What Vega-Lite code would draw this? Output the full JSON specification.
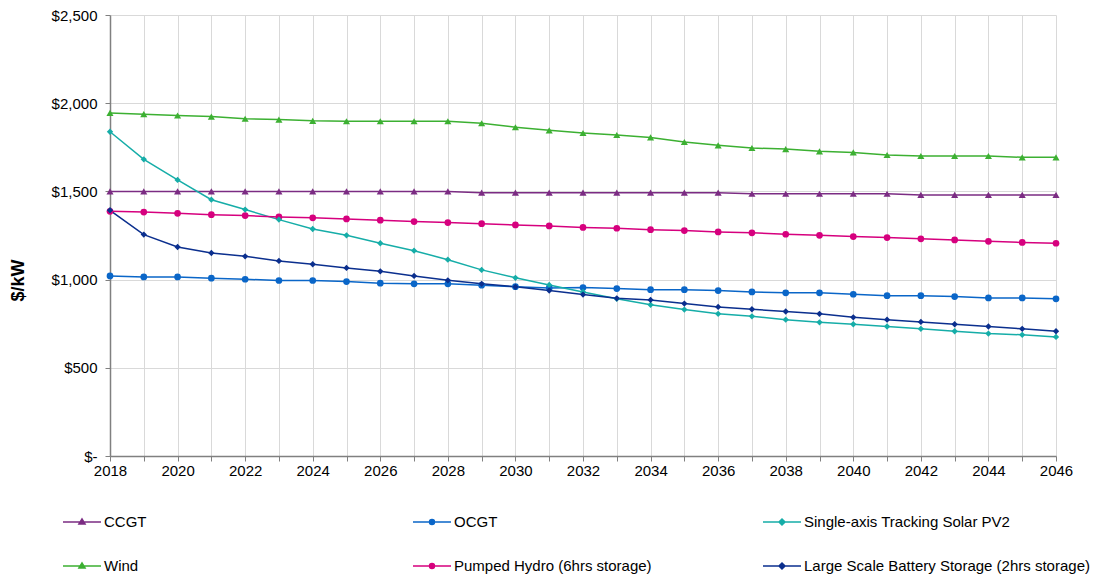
{
  "$schema": "https://vega.github.io/schema/vega-lite/v6.json",
  "width": 946,
  "height": 441,
  "autosize": {"type": "none"},
  "padding": {"left": 110, "top": 15, "right": 50, "bottom": 118},
  "background": "#ffffff",
  "config": {
    "view": {"stroke": null},
    "font": "Liberation Sans",
    "axis": {"labelFont": "Liberation Sans", "labelFontSize": 15, "labelColor": "#000000", "gridColor": "#D9D9D9", "gridWidth": 1, "domainColor": "#808080", "domainWidth": 1.5, "tickColor": "#808080", "tickSize": 5},
    "legend": {"labelFont": "Liberation Sans", "labelFontSize": 15, "labelColor": "#000000"}
  },
  "data": {"values": [
    {"year":2018,"s":"CCGT","v":1500},{"year":2019,"s":"CCGT","v":1500},{"year":2020,"s":"CCGT","v":1500},{"year":2021,"s":"CCGT","v":1500},{"year":2022,"s":"CCGT","v":1500},{"year":2023,"s":"CCGT","v":1500},{"year":2024,"s":"CCGT","v":1500},{"year":2025,"s":"CCGT","v":1500},{"year":2026,"s":"CCGT","v":1500},{"year":2027,"s":"CCGT","v":1500},{"year":2028,"s":"CCGT","v":1500},{"year":2029,"s":"CCGT","v":1493},{"year":2030,"s":"CCGT","v":1493},{"year":2031,"s":"CCGT","v":1493},{"year":2032,"s":"CCGT","v":1493},{"year":2033,"s":"CCGT","v":1493},{"year":2034,"s":"CCGT","v":1493},{"year":2035,"s":"CCGT","v":1493},{"year":2036,"s":"CCGT","v":1493},{"year":2037,"s":"CCGT","v":1487},{"year":2038,"s":"CCGT","v":1487},{"year":2039,"s":"CCGT","v":1487},{"year":2040,"s":"CCGT","v":1487},{"year":2041,"s":"CCGT","v":1487},{"year":2042,"s":"CCGT","v":1480},{"year":2043,"s":"CCGT","v":1480},{"year":2044,"s":"CCGT","v":1480},{"year":2045,"s":"CCGT","v":1480},{"year":2046,"s":"CCGT","v":1480},
    {"year":2018,"s":"OCGT","v":1021},{"year":2019,"s":"OCGT","v":1015},{"year":2020,"s":"OCGT","v":1015},{"year":2021,"s":"OCGT","v":1008},{"year":2022,"s":"OCGT","v":1002},{"year":2023,"s":"OCGT","v":995},{"year":2024,"s":"OCGT","v":995},{"year":2025,"s":"OCGT","v":989},{"year":2026,"s":"OCGT","v":980},{"year":2027,"s":"OCGT","v":976},{"year":2028,"s":"OCGT","v":976},{"year":2029,"s":"OCGT","v":968},{"year":2030,"s":"OCGT","v":960},{"year":2031,"s":"OCGT","v":953},{"year":2032,"s":"OCGT","v":955},{"year":2033,"s":"OCGT","v":949},{"year":2034,"s":"OCGT","v":943},{"year":2035,"s":"OCGT","v":943},{"year":2036,"s":"OCGT","v":938},{"year":2037,"s":"OCGT","v":930},{"year":2038,"s":"OCGT","v":925},{"year":2039,"s":"OCGT","v":925},{"year":2040,"s":"OCGT","v":917},{"year":2041,"s":"OCGT","v":909},{"year":2042,"s":"OCGT","v":909},{"year":2043,"s":"OCGT","v":904},{"year":2044,"s":"OCGT","v":896},{"year":2045,"s":"OCGT","v":896},{"year":2046,"s":"OCGT","v":891},
    {"year":2018,"s":"Single-axis Tracking Solar PV2","v":1838},{"year":2019,"s":"Single-axis Tracking Solar PV2","v":1682},{"year":2020,"s":"Single-axis Tracking Solar PV2","v":1565},{"year":2021,"s":"Single-axis Tracking Solar PV2","v":1453},{"year":2022,"s":"Single-axis Tracking Solar PV2","v":1397},{"year":2023,"s":"Single-axis Tracking Solar PV2","v":1340},{"year":2024,"s":"Single-axis Tracking Solar PV2","v":1287},{"year":2025,"s":"Single-axis Tracking Solar PV2","v":1251},{"year":2026,"s":"Single-axis Tracking Solar PV2","v":1206},{"year":2027,"s":"Single-axis Tracking Solar PV2","v":1164},{"year":2028,"s":"Single-axis Tracking Solar PV2","v":1113},{"year":2029,"s":"Single-axis Tracking Solar PV2","v":1055},{"year":2030,"s":"Single-axis Tracking Solar PV2","v":1010},{"year":2031,"s":"Single-axis Tracking Solar PV2","v":970},{"year":2032,"s":"Single-axis Tracking Solar PV2","v":930},{"year":2033,"s":"Single-axis Tracking Solar PV2","v":891},{"year":2034,"s":"Single-axis Tracking Solar PV2","v":857},{"year":2035,"s":"Single-axis Tracking Solar PV2","v":830},{"year":2036,"s":"Single-axis Tracking Solar PV2","v":806},{"year":2037,"s":"Single-axis Tracking Solar PV2","v":792},{"year":2038,"s":"Single-axis Tracking Solar PV2","v":773},{"year":2039,"s":"Single-axis Tracking Solar PV2","v":758},{"year":2040,"s":"Single-axis Tracking Solar PV2","v":747},{"year":2041,"s":"Single-axis Tracking Solar PV2","v":734},{"year":2042,"s":"Single-axis Tracking Solar PV2","v":721},{"year":2043,"s":"Single-axis Tracking Solar PV2","v":707},{"year":2044,"s":"Single-axis Tracking Solar PV2","v":694},{"year":2045,"s":"Single-axis Tracking Solar PV2","v":687},{"year":2046,"s":"Single-axis Tracking Solar PV2","v":675},
    {"year":2018,"s":"Wind","v":1945},{"year":2019,"s":"Wind","v":1938},{"year":2020,"s":"Wind","v":1930},{"year":2021,"s":"Wind","v":1924},{"year":2022,"s":"Wind","v":1912},{"year":2023,"s":"Wind","v":1907},{"year":2024,"s":"Wind","v":1900},{"year":2025,"s":"Wind","v":1898},{"year":2026,"s":"Wind","v":1898},{"year":2027,"s":"Wind","v":1898},{"year":2028,"s":"Wind","v":1898},{"year":2029,"s":"Wind","v":1886},{"year":2030,"s":"Wind","v":1864},{"year":2031,"s":"Wind","v":1846},{"year":2032,"s":"Wind","v":1831},{"year":2033,"s":"Wind","v":1820},{"year":2034,"s":"Wind","v":1806},{"year":2035,"s":"Wind","v":1780},{"year":2036,"s":"Wind","v":1761},{"year":2037,"s":"Wind","v":1746},{"year":2038,"s":"Wind","v":1740},{"year":2039,"s":"Wind","v":1727},{"year":2040,"s":"Wind","v":1721},{"year":2041,"s":"Wind","v":1706},{"year":2042,"s":"Wind","v":1701},{"year":2043,"s":"Wind","v":1701},{"year":2044,"s":"Wind","v":1701},{"year":2045,"s":"Wind","v":1693},{"year":2046,"s":"Wind","v":1693},
    {"year":2018,"s":"Pumped Hydro (6hrs storage)","v":1387},{"year":2019,"s":"Pumped Hydro (6hrs storage)","v":1383},{"year":2020,"s":"Pumped Hydro (6hrs storage)","v":1376},{"year":2021,"s":"Pumped Hydro (6hrs storage)","v":1368},{"year":2022,"s":"Pumped Hydro (6hrs storage)","v":1363},{"year":2023,"s":"Pumped Hydro (6hrs storage)","v":1355},{"year":2024,"s":"Pumped Hydro (6hrs storage)","v":1350},{"year":2025,"s":"Pumped Hydro (6hrs storage)","v":1344},{"year":2026,"s":"Pumped Hydro (6hrs storage)","v":1337},{"year":2027,"s":"Pumped Hydro (6hrs storage)","v":1329},{"year":2028,"s":"Pumped Hydro (6hrs storage)","v":1323},{"year":2029,"s":"Pumped Hydro (6hrs storage)","v":1317},{"year":2030,"s":"Pumped Hydro (6hrs storage)","v":1310},{"year":2031,"s":"Pumped Hydro (6hrs storage)","v":1304},{"year":2032,"s":"Pumped Hydro (6hrs storage)","v":1296},{"year":2033,"s":"Pumped Hydro (6hrs storage)","v":1291},{"year":2034,"s":"Pumped Hydro (6hrs storage)","v":1283},{"year":2035,"s":"Pumped Hydro (6hrs storage)","v":1278},{"year":2036,"s":"Pumped Hydro (6hrs storage)","v":1270},{"year":2037,"s":"Pumped Hydro (6hrs storage)","v":1265},{"year":2038,"s":"Pumped Hydro (6hrs storage)","v":1257},{"year":2039,"s":"Pumped Hydro (6hrs storage)","v":1251},{"year":2040,"s":"Pumped Hydro (6hrs storage)","v":1244},{"year":2041,"s":"Pumped Hydro (6hrs storage)","v":1238},{"year":2042,"s":"Pumped Hydro (6hrs storage)","v":1231},{"year":2043,"s":"Pumped Hydro (6hrs storage)","v":1225},{"year":2044,"s":"Pumped Hydro (6hrs storage)","v":1217},{"year":2045,"s":"Pumped Hydro (6hrs storage)","v":1211},{"year":2046,"s":"Pumped Hydro (6hrs storage)","v":1206},
    {"year":2018,"s":"Large Scale Battery Storage (2hrs storage)","v":1393},{"year":2019,"s":"Large Scale Battery Storage (2hrs storage)","v":1255},{"year":2020,"s":"Large Scale Battery Storage (2hrs storage)","v":1185},{"year":2021,"s":"Large Scale Battery Storage (2hrs storage)","v":1151},{"year":2022,"s":"Large Scale Battery Storage (2hrs storage)","v":1132},{"year":2023,"s":"Large Scale Battery Storage (2hrs storage)","v":1106},{"year":2024,"s":"Large Scale Battery Storage (2hrs storage)","v":1087},{"year":2025,"s":"Large Scale Battery Storage (2hrs storage)","v":1066},{"year":2026,"s":"Large Scale Battery Storage (2hrs storage)","v":1047},{"year":2027,"s":"Large Scale Battery Storage (2hrs storage)","v":1021},{"year":2028,"s":"Large Scale Battery Storage (2hrs storage)","v":996},{"year":2029,"s":"Large Scale Battery Storage (2hrs storage)","v":976},{"year":2030,"s":"Large Scale Battery Storage (2hrs storage)","v":959},{"year":2031,"s":"Large Scale Battery Storage (2hrs storage)","v":938},{"year":2032,"s":"Large Scale Battery Storage (2hrs storage)","v":915},{"year":2033,"s":"Large Scale Battery Storage (2hrs storage)","v":894},{"year":2034,"s":"Large Scale Battery Storage (2hrs storage)","v":885},{"year":2035,"s":"Large Scale Battery Storage (2hrs storage)","v":864},{"year":2036,"s":"Large Scale Battery Storage (2hrs storage)","v":845},{"year":2037,"s":"Large Scale Battery Storage (2hrs storage)","v":832},{"year":2038,"s":"Large Scale Battery Storage (2hrs storage)","v":819},{"year":2039,"s":"Large Scale Battery Storage (2hrs storage)","v":806},{"year":2040,"s":"Large Scale Battery Storage (2hrs storage)","v":786},{"year":2041,"s":"Large Scale Battery Storage (2hrs storage)","v":773},{"year":2042,"s":"Large Scale Battery Storage (2hrs storage)","v":760},{"year":2043,"s":"Large Scale Battery Storage (2hrs storage)","v":747},{"year":2044,"s":"Large Scale Battery Storage (2hrs storage)","v":734},{"year":2045,"s":"Large Scale Battery Storage (2hrs storage)","v":721},{"year":2046,"s":"Large Scale Battery Storage (2hrs storage)","v":707}
  ]},
  "encoding": {
    "x": {"field": "year", "type": "quantitative",
      "scale": {"domain": [2018, 2046], "nice": false, "zero": false},
      "axis": {"title": null, "values": [2018,2019,2020,2021,2022,2023,2024,2025,2026,2027,2028,2029,2030,2031,2032,2033,2034,2035,2036,2037,2038,2039,2040,2041,2042,2043,2044,2045,2046],
        "labelExpr": "datum.value % 2 == 0 ? '' + datum.value : ''", "labelPadding": 2, "labelFlush": false, "labelOverlap": false}},
    "y": {"field": "v", "type": "quantitative",
      "scale": {"domain": [0, 2500], "nice": false},
      "axis": {"title": "$/kW", "values": [0,500,1000,1500,2000,2500],
        "labelExpr": "datum.value == 0 ? '$-' : '$' + format(datum.value, ',')", "labelPadding": 8,
        "titleFont": "Liberation Sans", "titleFontSize": 18, "titleFontWeight": "bold", "titleColor": "#000000",
        "titleX": -83, "titleY": 265, "titleAngle": -90, "titleBaseline": "bottom", "titleAlign": "center"}},
    "color": {"field": "s", "type": "nominal",
      "scale": {"domain": ["CCGT","OCGT","Single-axis Tracking Solar PV2","Wind","Pumped Hydro (6hrs storage)","Large Scale Battery Storage (2hrs storage)"],
        "range": ["#7B2C83","#0A66C8","#16ADA8","#3CB032","#D6007E","#0B2F8E"]},
      "legend": {"title": null, "orient": "none", "legendX": -48, "legendY": 487, "columns": 3, "direction": "horizontal", "gridAlign": "all",
        "columnPadding": 20, "rowPadding": 16, "symbolSize": 1444, "symbolStrokeWidth": 1.5, "labelOffset": 2, "labelLimit": 400,
        "encode": {"symbols": {"update": {
          "shape": {"signal": "indexof(['CCGT','Wind'], datum.value) >= 0 ? 'M-1,0H1M-0.16,0.1L0,-0.16L0.16,0.1Z' : (indexof(['OCGT','Pumped Hydro (6hrs storage)'], datum.value) >= 0 ? 'M-1,0H1M0.13,0A0.13,0.13 0 1,1 -0.13,0A0.13,0.13 0 1,1 0.13,0Z' : 'M-1,0H1M-0.16,0L0,-0.16L0.16,0L0,0.16Z')"},
          "fill": {"signal": "scale('color', datum.value)"},
          "stroke": {"signal": "scale('color', datum.value)"}
        }}}}
    }
  },
  "layer": [
    {"mark": {"type": "line", "strokeWidth": 1.5}},
    {"transform": [{"filter": {"field": "s", "oneOf": ["CCGT", "Wind"]}}],
      "mark": {"type": "point", "filled": true, "opacity": 1, "size": 50, "shape": "triangle-up"}},
    {"transform": [{"filter": {"field": "s", "oneOf": ["OCGT", "Pumped Hydro (6hrs storage)"]}}],
      "mark": {"type": "point", "filled": true, "opacity": 1, "size": 45, "shape": "circle"}},
    {"transform": [{"filter": {"field": "s", "oneOf": ["Single-axis Tracking Solar PV2", "Large Scale Battery Storage (2hrs storage)"]}}],
      "mark": {"type": "point", "filled": true, "opacity": 1, "size": 40, "shape": "diamond"}}
  ]
}
